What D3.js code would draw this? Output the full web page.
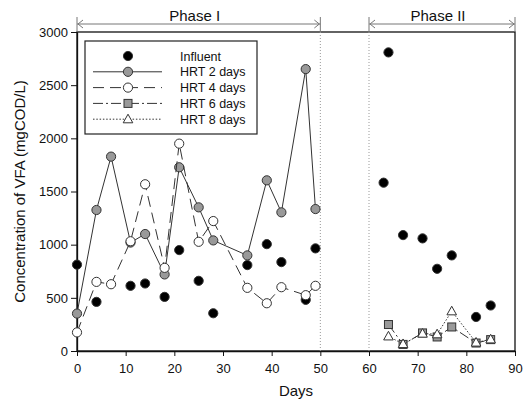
<!DOCTYPE html>
<html>
<head>
<meta charset="utf-8">
<script src="https://cdn.jsdelivr.net/npm/d3@7"></script>
<style>
  html, body { margin: 0; padding: 0; background: #fff; }
  svg { display: block; font-family: "Liberation Sans", Arial, sans-serif; }
</style>
</head>
<body>
<svg id="chart" width="529" height="405"></svg>
<script>
// VFA concentration over two operating phases
const influentDays = [0, 4, 11, 14, 18, 21, 25, 28, 35, 39, 42, 47, 49, 63, 64, 67, 71, 74, 77, 82, 85];
const influent = [812, 462, 613, 635, 509, 949, 660, 355, 808, 1005, 836, 481, 965, 1583, 2808, 1090, 1059, 773, 899, 320, 428];

const phase1Days = [0, 4, 7, 11, 14, 18, 21, 25, 28, 35, 39, 42, 47, 49];
const hrt2 = [352, 1326, 1828, 1020, 1100, 720, 1728, 1351, 1040, 899, 1605, 1304, 2651, 1335];
const hrt4 = [175, 650, 628, 1032, 1568, 782, 1950, 1027, 1222, 594, 449, 600, 525, 613];

const phase2Days = [64, 67, 71, 74, 77, 82, 85];
const hrt6 = [249, 62, 170, 132, 226, 75, 107];
const hrt8 = [138, 66, 164, 158, 374, 80, 110];

const xTicks = [0, 10, 20, 30, 40, 50, 60, 70, 80, 90];
const yTicks = [0, 500, 1000, 1500, 2000, 2500, 3000];
const phases = [
  { label: "Phase I", start: 0, end: 50 },
  { label: "Phase II", start: 60, end: 90 }
];

const legendItems = [
  { label: "Influent", line: false, dash: null, shape: "circle", fill: "#000" },
  { label: "HRT 2 days", line: true, dash: null, shape: "circle", fill: "#999" },
  { label: "HRT 4 days", line: true, dash: "11,6", shape: "circle", fill: "#fff" },
  { label: "HRT 6 days", line: true, dash: "10,3,2,3", shape: "square", fill: "#999" },
  { label: "HRT 8 days", line: true, dash: "1.5,1.8", shape: "triangle", fill: "#fff" }
];

const W = 529, H = 405;
const margin = { top: 32, right: 14, bottom: 54, left: 77 };
const ink = "#333";

const svg = d3.select("#chart");

const x = d3.scaleLinear().domain([0, 90]).range([margin.left, W - margin.right]);
const y = d3.scaleLinear().domain([0, 3000]).range([H - margin.bottom, margin.top]);

// frame
svg.append("rect")
  .attr("x", x(0)).attr("y", y(3000))
  .attr("width", x(90) - x(0)).attr("height", y(0) - y(3000))
  .attr("fill", "none").attr("stroke", "#111").attr("stroke-width", 1.3);

// axes
const xAxis = svg.append("g")
  .attr("transform", `translate(0,${y(0)})`)
  .call(d3.axisBottom(x).tickValues(xTicks).tickFormat(d3.format("d"))
    .tickSize(5).tickSizeOuter(0).tickPadding(8));
const yAxis = svg.append("g")
  .attr("transform", `translate(${x(0)},0)`)
  .call(d3.axisLeft(y).tickValues(yTicks).tickFormat(d3.format("d"))
    .tickSize(6).tickSizeOuter(0).tickPadding(3));
for (const ax of [xAxis, yAxis]) {
  ax.select(".domain").attr("stroke", "#111").attr("stroke-width", 1.3);
  ax.selectAll(".tick line").attr("stroke", "#111");
  ax.selectAll("text").attr("font-size", 13).attr("fill", "#111")
    .attr("font-family", '"Liberation Sans", Arial, sans-serif');
}

svg.append("text")
  .attr("x", (x(0) + x(90)) / 2).attr("y", 396)
  .attr("text-anchor", "middle").attr("font-size", 15).attr("fill", "#111")
  .text("Days");
svg.append("text")
  .attr("transform", `translate(25,${(y(0) + y(3000)) / 2}) rotate(-90)`)
  .attr("text-anchor", "middle").attr("font-size", 15).attr("fill", "#111")
  .text("Concentration of VFA (mgCOD/L)");

// phase boundaries
for (const d of [50, 60]) {
  svg.append("line")
    .attr("x1", x(d)).attr("x2", x(d))
    .attr("y1", y(3000)).attr("y2", y(0))
    .attr("stroke", "#999").attr("stroke-width", 1).attr("stroke-dasharray", "1,2");
}

// phase arrows
const arrowY = 24;
const pg = svg.append("g").attr("stroke", "#777").attr("fill", "none").attr("stroke-width", 1);
for (const p of phases) {
  const a = x(p.start), b = x(p.end);
  pg.append("line").attr("x1", a).attr("x2", b).attr("y1", arrowY).attr("y2", arrowY);
  pg.append("line").attr("x1", a).attr("x2", a).attr("y1", 17).attr("y2", y(3000));
  pg.append("line").attr("x1", b).attr("x2", b).attr("y1", 17).attr("y2", y(3000));
  pg.append("path").attr("d", `M${a + 6},${arrowY - 4}L${a + 1},${arrowY}L${a + 6},${arrowY + 4}`);
  pg.append("path").attr("d", `M${b - 6},${arrowY - 4}L${b - 1},${arrowY}L${b - 6},${arrowY + 4}`);
  svg.append("text")
    .attr("x", (a + b) / 2 - 4).attr("y", 20.5)
    .attr("text-anchor", "middle").attr("font-size", 15).attr("fill", "#111")
    .text(p.label);
}

// markers
function marker(sel, shape, fill) {
  if (shape === "circle") {
    sel.append("circle").attr("r", 4.6);
  } else if (shape === "square") {
    sel.append("rect").attr("x", -4).attr("y", -4).attr("width", 8).attr("height", 8);
  } else {
    sel.append("path").attr("d", "M0,-5L4.8,3.6L-4.8,3.6Z");
  }
  sel.selectAll("circle,rect,path")
    .attr("fill", fill).attr("stroke", ink).attr("stroke-width", 1);
}

const line = d3.line().x(d => x(d[0])).y(d => y(d[1]));

function drawSeries(days, vals, item) {
  const pts = days.map((d, i) => [d, vals[i]]);
  const g = svg.append("g");
  if (item.line) {
    g.append("path")
      .attr("d", line(pts))
      .attr("fill", "none").attr("stroke", ink).attr("stroke-width", 1)
      .attr("stroke-dasharray", item.dash);
  }
  g.selectAll("g.m")
    .data(pts)
    .join("g")
    .attr("class", "m")
    .attr("transform", d => `translate(${x(d[0])},${y(d[1])})`)
    .each(function () { marker(d3.select(this), item.shape, item.fill); });
}

drawSeries(influentDays, influent, legendItems[0]);
drawSeries(phase1Days, hrt2, legendItems[1]);
drawSeries(phase1Days, hrt4, legendItems[2]);
drawSeries(phase2Days, hrt6, legendItems[3]);
drawSeries(phase2Days, hrt8, legendItems[4]);

// legend
const lg = svg.append("g");
lg.append("rect")
  .attr("x", 85).attr("y", 41).attr("width", 172).attr("height", 93)
  .attr("fill", "#fff").attr("stroke", "#222").attr("stroke-width", 1.2);
legendItems.forEach((it, i) => {
  const ly = 56 + i * 15.8;
  const row = lg.append("g");
  if (it.line) {
    row.append("line")
      .attr("x1", 93).attr("x2", 162).attr("y1", ly).attr("y2", ly)
      .attr("stroke", ink).attr("stroke-width", 1)
      .attr("stroke-dasharray", it.dash);
  }
  const m = row.append("g").attr("transform", `translate(128,${ly})`);
  marker(m, it.shape, it.fill);
  row.append("text")
    .attr("x", 180).attr("y", ly + 4.5)
    .attr("font-size", 12.5).attr("fill", "#111")
    .text(it.label);
});
</script>
</body>
</html>
